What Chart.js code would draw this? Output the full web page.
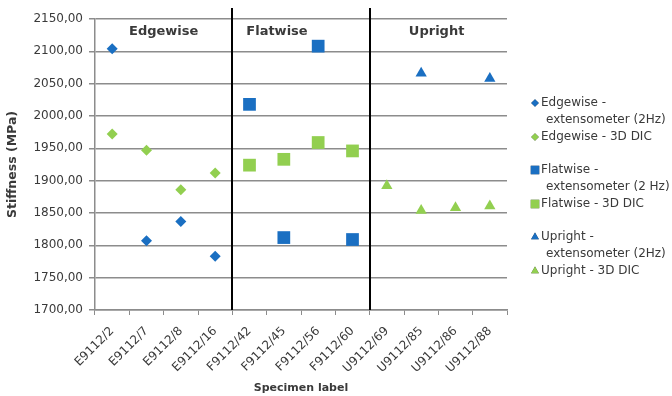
<!DOCTYPE html>
<html>
<head>
<meta charset="utf-8">
<script src="https://cdn.jsdelivr.net/npm/chart.js@4/dist/chart.umd.min.js"></script>
<style>
  html, body { margin: 0; padding: 0; background: #fff; }
  #wrap { width: 672px; height: 396px; }
</style>
</head>
<body>
<div id="wrap"><canvas id="c" width="672" height="396"></canvas></div>
<script>
// Specimen labels along the x axis
const specimens = ['E9112/2', 'E9112/7', 'E9112/8', 'E9112/16',
                   'F9112/42', 'F9112/45', 'F9112/56', 'F9112/60',
                   'U9112/69', 'U9112/85', 'U9112/86', 'U9112/88'];

// Stiffness values (MPa) per series, aligned with the specimen labels
const edgewiseExt = [2104, 1807, 1837, 1783, null, null, null, null, null, null, null, null];
const edgewiseDic = [1972, 1947, 1886, 1912, null, null, null, null, null, null, null, null];
const flatwiseExt = [null, null, null, null, 2018, 1812, 2108, 1809, null, null, null, null];
const flatwiseDic = [null, null, null, null, 1924, 1933, 1959, 1946, null, null, null, null];
const uprightExt  = [null, null, null, null, null, null, null, null, null, 2066, null, 2058];
const uprightDic  = [null, null, null, null, null, null, null, null, 1892, 1854, 1858, 1861];

const seriesNames = ['Edgewise - extensometer (2Hz)', 'Edgewise - 3D DIC',
                     'Flatwise - extensometer (2 Hz)', 'Flatwise - 3D DIC',
                     'Upright - extensometer (2Hz)', 'Upright - 3D DIC'];

// Orientation groups and how many specimens each spans
const groupNames = ['Edgewise', 'Flatwise', 'Upright'];
const groupSizes = [4, 4, 4];

// Value axis range
const yMin = 1700, yMax = 2150, yStep = 50;

const BLUE = '#1a6fc2';
const GREEN = '#92cf50';
const TEXT = '#3a3a3a';
const FONT = "'DejaVu Sans', sans-serif";

function series(label, data, color, style, radius) {
  return {
    label, data,
    showLine: false,
    pointStyle: style,
    pointRadius: radius,
    pointHoverRadius: radius,
    pointBackgroundColor: color,
    pointBorderColor: color,
    pointBorderWidth: 0,
    backgroundColor: color,
    borderColor: color
  };
}

// Group captions, separators and a wrapped legend on the right
const decorations = {
  id: 'decorations',
  afterDraw(chart, args, opts) {
    const ctx = chart.ctx;
    const x = chart.scales.x;
    const area = chart.chartArea;
    const n = specimens.length;
    const catW = (x.right - x.left) / n;
    const at = i => x.left + (i + 0.5) * catW;

    ctx.save();
    // separators between orientation groups
    ctx.strokeStyle = '#000';
    ctx.lineWidth = 2;
    let acc = 0;
    for (let g = 0; g < groupSizes.length - 1; g++) {
      acc += groupSizes[g];
      const px = Math.round(x.left + acc * catW);
      ctx.beginPath();
      ctx.moveTo(px, 8);
      ctx.lineTo(px, area.bottom);
      ctx.stroke();
    }
    // group captions
    ctx.fillStyle = TEXT;
    ctx.font = "bold 13px " + FONT;
    ctx.textAlign = 'center';
    ctx.textBaseline = 'middle';
    groupNames.forEach((name, g) => {
      ctx.fillText(name, at(opts.captionAt[g]), 32);
    });

    // legend
    ctx.font = "12px " + FONT;
    ctx.textAlign = 'left';
    const markX = area.right + 28;
    const textX = markX + 6;
    const lineH = 17;
    let y = 103;
    chart.data.datasets.forEach((ds, i) => {
      if (i > 0 && i % 2 === 0) y += 16;
      Chart.helpers.drawPoint(ctx, {
        pointStyle: ds.pointStyle,
        radius: ds.pointStyle === 'rect' ? 6 : (ds.pointStyle === 'triangle' ? 4.5 : 3.8),
        borderWidth: 0,
        rotation: 0
      }, markX, y);
      ctx.fillStyle = ds.pointBackgroundColor;
      ctx.fill();
      // greedy word wrap
      const words = ds.label.split(' ');
      const lines = [];
      let cur = '';
      words.forEach(w => {
        const t = cur ? cur + ' ' + w : w;
        if (ctx.measureText(t).width > 128 && cur) { lines.push(cur); cur = w; }
        else cur = t;
      });
      lines.push(cur);
      ctx.fillStyle = TEXT;
      lines.forEach((ln, k) => {
        ctx.fillText(ln, k === 0 ? textX : textX + 5, y);
        y += lineH;
      });
    });
    ctx.restore();
  }
};

new Chart(document.getElementById('c'), {
  type: 'line',
  data: {
    labels: specimens,
    datasets: [
      series(seriesNames[0], edgewiseExt, BLUE, 'rectRot', 5.5),
      series(seriesNames[1], edgewiseDic, GREEN, 'rectRot', 5.5),
      series(seriesNames[2], flatwiseExt, BLUE, 'rect', 9),
      series(seriesNames[3], flatwiseDic, GREEN, 'rect', 9),
      series(seriesNames[4], uprightExt, BLUE, 'triangle', 6.5),
      series(seriesNames[5], uprightDic, GREEN, 'triangle', 6.5)
    ]
  },
  options: {
    responsive: false,
    animation: false,
    layout: { padding: { top: 19, right: 165, left: 0, bottom: 0 } },
    plugins: {
      legend: { display: false },
      tooltip: { enabled: false },
      decorations: { captionAt: [1.5, 4.8, 9.45] }
    },
    scales: {
      x: {
        type: 'category',
        offset: true,
        afterFit(s) { s.height = 86; },
        grid: { offset: true, drawOnChartArea: false, color: '#8c8c8c', tickLength: 5 },
        border: { color: '#8c8c8c', width: 1.5 },
        ticks: {
          autoSkip: false, maxRotation: 45, minRotation: 45, padding: 9,
          color: TEXT, font: { family: FONT, size: 12 }
        },
        title: {
          display: true, text: 'Specimen label', color: TEXT,
          font: { family: FONT, size: 11, weight: 'bold' },
          padding: { top: 0, bottom: 1 }
        }
      },
      y: {
        min: yMin, max: yMax,
        afterFit(s) { s.width = 95; },
        grid: { color: '#8c8c8c', lineWidth: 1.5, tickLength: 6 },
        border: { color: '#8c8c8c', width: 1.5 },
        ticks: {
          stepSize: yStep, padding: 6, color: TEXT,
          font: { family: FONT, size: 12 },
          callback: v => v.toFixed(2).replace('.', ',')
        },
        title: {
          display: true, text: 'Stiffness (MPa)', color: TEXT,
          font: { family: FONT, size: 12.5, weight: 'bold' },
          padding: { top: 5, bottom: 0 }
        }
      }
    }
  },
  plugins: [decorations]
});
</script>
</body>
</html>
